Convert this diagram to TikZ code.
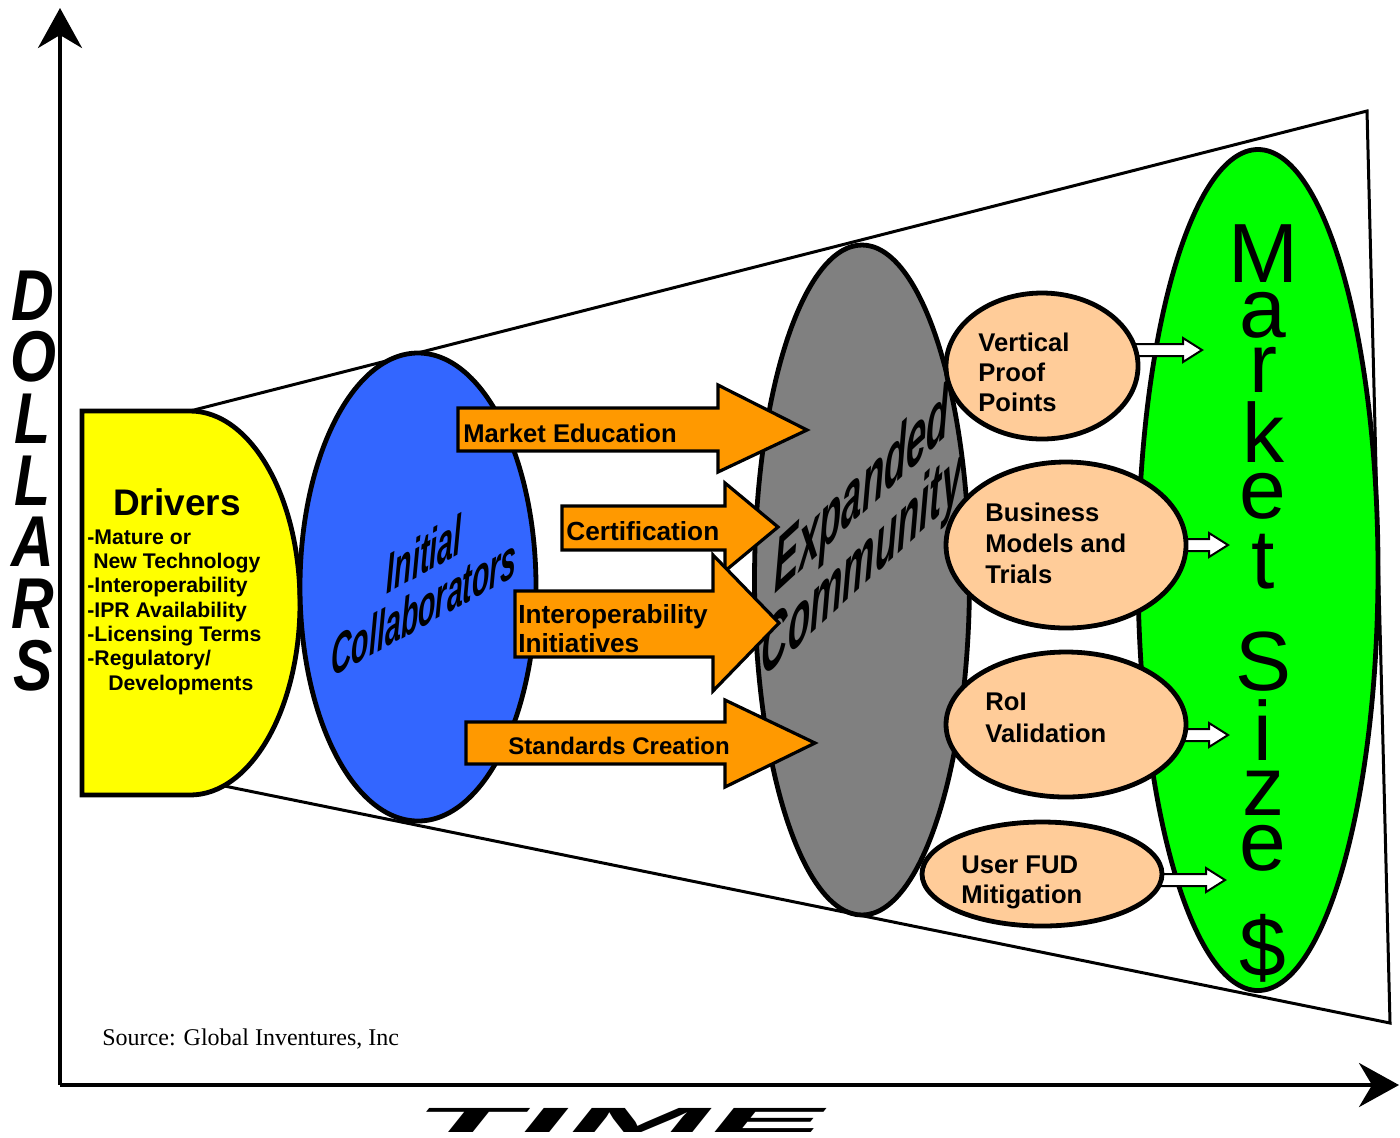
\documentclass[tikz,border=0pt]{standalone}
\usepackage{fontspec}
\setmainfont{Liberation Sans}
\newfontfamily\srcfont{Liberation Serif}
\usetikzlibrary{shapes.geometric,arrows.meta}
\definecolor{yellowA}{HTML}{FFFF00}
\definecolor{blueA}{HTML}{3366FF}
\definecolor{grayA}{HTML}{808080}
\definecolor{greenA}{HTML}{00FF00}
\definecolor{orangeA}{HTML}{FF9900}
\definecolor{peachA}{HTML}{FFCC99}
\newcommand\whitearrow[2]{%
  \draw[warrow] (#1) ++(0,-6) -- ++(#2,0) -- ++(0,-6) -- ++(19,12) -- ++(-19,12) -- ++(0,-6) -- ++(-#2,0) -- cycle;}
\begin{document}
\begin{tikzpicture}[x=0.5pt,y=-0.5pt,
  el/.style={ellipse, draw=black, line width=2.4pt, inner sep=0pt},
  oarrow/.style={fill=orangeA, draw=black, line width=1.6pt, line join=miter},
  warrow/.style={fill=white, draw=black, line width=1pt, line join=miter},
  funnel/.style={draw=black, line width=1.5pt, line join=miter},
  axis/.style={line width=2pt, -{Stealth[length=20pt, width=22pt]}},
  atxt/.style={anchor=base west, inner sep=0pt, align=left},
  ptxt/.style={font=\fontsize{12.8}{15}\selectfont\bfseries, anchor=base west, inner sep=0pt, align=left},
  msl/.style={font=\fontsize{42}{42}\selectfont, anchor=base, inner sep=0pt},
  dol/.style={font=\fontsize{36}{36}\selectfont\bfseries\itshape, anchor=base, inner sep=0pt, xscale=0.82},
]
\useasboundingbox (0,0) rectangle (1400,1137);

% funnel
\draw[funnel] (190,411) -- (1367,111) -- (1390,1023) -- (190,779) -- cycle;

% axes
\coordinate (origin) at (60,1085);
\coordinate (ytop) at (60,8);
\coordinate (xend) at (1399,1085);
\draw[axis] (origin) -- (ytop);
\draw[axis] (origin) -- (xend);

% drivers shape
\draw[fill=yellowA, line width=2.4pt, line join=miter] (82,411) -- (190,411)
  arc[start angle=-90, end angle=90, x radius=110, y radius=192] -- (82,795) -- cycle;
\node[font=\fontsize{18.5}{20}\selectfont\bfseries, anchor=base, inner sep=0pt] (drv) at (177,515) {Drivers};
\node[font=\fontsize{10.6}{12.15}\selectfont\bfseries, anchor=base west, inner sep=0pt, align=left] (drvlist) at (87,690)
  {-Mature or\\\hspace*{3pt}New Technology\\-Interoperability\\-IPR Availability\\-Licensing Terms\\-Regulatory/\\\hspace*{10.5pt}Developments};

% ellipses
\node[el, fill=blueA, minimum width=118pt, minimum height=234pt] (blue) at (418,587) {};
\node[font=\fontsize{28}{26.5}\selectfont\bfseries\itshape, align=center, inner sep=0pt, yslant=0.55, xscale=0.51] (initc) at (424,580) {Initial\\Collaborators};

\node[el, fill=grayA, minimum width=107.5pt, minimum height=335pt] (gray) at (862,580) {};
\node[font=\fontsize{38}{31}\selectfont\bfseries\itshape, align=center, inner sep=0pt, yslant=0.92, xscale=0.48] (expc) at (862,531) {Expanded\\Community};

\node[el, fill=greenA, minimum width=120pt, minimum height=420.5pt] (green) at (1258,570) {};

% orange arrows
\draw[oarrow] (458,408) -- (718,408) -- (718,385) -- (807,430) -- (718,472) -- (718,451) -- (458,451) -- cycle;
\node[atxt, font=\fontsize{12.8}{15}\selectfont\bfseries] (me) at (463,442) {Market Education};
\draw[oarrow] (562,506) -- (725,506) -- (725,483) -- (778,527) -- (725,571) -- (725,550) -- (562,550) -- cycle;
\node[atxt, font=\fontsize{13.1}{15}\selectfont\bfseries] (cert) at (566,540) {Certification};
\draw[oarrow] (515,591) -- (713,591) -- (713,555) -- (779,623) -- (713,691) -- (713,657) -- (515,657) -- cycle;
\node[atxt, font=\fontsize{13.1}{14.5}\selectfont\bfseries] (interop) at (518,652) {Interoperability\\Initiatives};
\draw[oarrow] (466,722) -- (725,722) -- (725,700) -- (815,743) -- (725,787) -- (725,764) -- (466,764) -- cycle;
\node[atxt, font=\fontsize{12}{15}\selectfont\bfseries] (std) at (508,754) {Standards Creation};

% white arrows (under peach ellipses)
\coordinate (w1) at (1125,350);
\coordinate (w2) at (1175,545);
\coordinate (w3) at (1175,735);
\coordinate (w4) at (1150,880);
\whitearrow{w1}{58}
\whitearrow{w2}{34}
\whitearrow{w3}{34}
\whitearrow{w4}{56}

% peach ellipses
\node[el, fill=peachA, minimum width=96pt, minimum height=73pt] (p1) at (1042,366) {};
\node[el, fill=peachA, minimum width=120pt, minimum height=83pt] (p2) at (1066,545) {};
\node[el, fill=peachA, minimum width=120pt, minimum height=72.5pt] (p3) at (1066,724.5) {};
\node[el, fill=peachA, minimum width=120pt, minimum height=52pt] (p4) at (1042,874) {};
\node[ptxt] (t1) at (978,411) {Vertical\\Proof\\Points};
\node[ptxt, font=\fontsize{12.8}{15.5}\selectfont\bfseries] (t2) at (985,583) {Business\\Models and\\Trials};
\node[ptxt, font=\fontsize{12.8}{16}\selectfont\bfseries] (t3) at (985,742) {RoI\\Validation};
\node[ptxt] (t4) at (961,903) {User FUD\\Mitigation};

% market size letters
\foreach \l/\yb [count=\i] in {M/282, a/337, r/392, k/462, e/518, t/588, S/690, i/760, z/815, e/870, \$/976}
  \node[msl] (ms\i) at (1263,\yb) {\l};

% DOLLARS
\foreach \l [count=\i] in {D,O,L,L,A,R,S}
  \node[dol] (dl\i) at (33,{320+61.7*(\i-1)}) {\l};

% TIME
\node[font=\fontsize{17.5}{17.5}\selectfont\bfseries, inner sep=0pt, xslant=0.8, xscale=4.9] (time) at (623,1120) {TIME};

% source
\node[font=\fontsize{12}{14}\srcfont, anchor=base west, inner sep=0pt] (src) at (102,1045) {Source: Global Inventures, Inc};
\end{tikzpicture}
\end{document}
